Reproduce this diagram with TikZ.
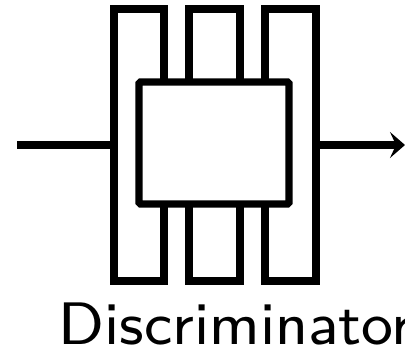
\documentclass[tikz,border=0pt]{standalone}
\usetikzlibrary{arrows.meta}
\begin{document}
\begin{tikzpicture}[x=1pt,y=-1pt,
  thick line/.style={line width=7.3pt},
  bar/.style={thick line, draw=black, fill=white},
  core/.style={thick line, draw=black, fill=white, rounded corners=1.5pt}]
\useasboundingbox (0,0) rectangle (405,355);
\draw[bar] (114,9) rectangle (164,281);
\draw[bar] (189,9) rectangle (240,281);
\draw[bar] (265,9) rectangle (316,281);
\draw[core] (139,82) rectangle (289,204);
\coordinate (in) at (17,145);
\coordinate (lft) at (110.4,145);
\coordinate (rgt) at (319.6,145);
\coordinate (out) at (405,145);
\draw[thick line] (in) -- (lft);
\draw[thick line,-{Stealth[length=15pt,width=26pt,inset=6pt]}] (rgt) -- (out);
\node[anchor=base west, inner sep=0pt, scale=7.5, font=\sffamily\fontsize{8}{10}\selectfont] (lbl) at (57,345) {Discriminator};
\end{tikzpicture}
\end{document}
